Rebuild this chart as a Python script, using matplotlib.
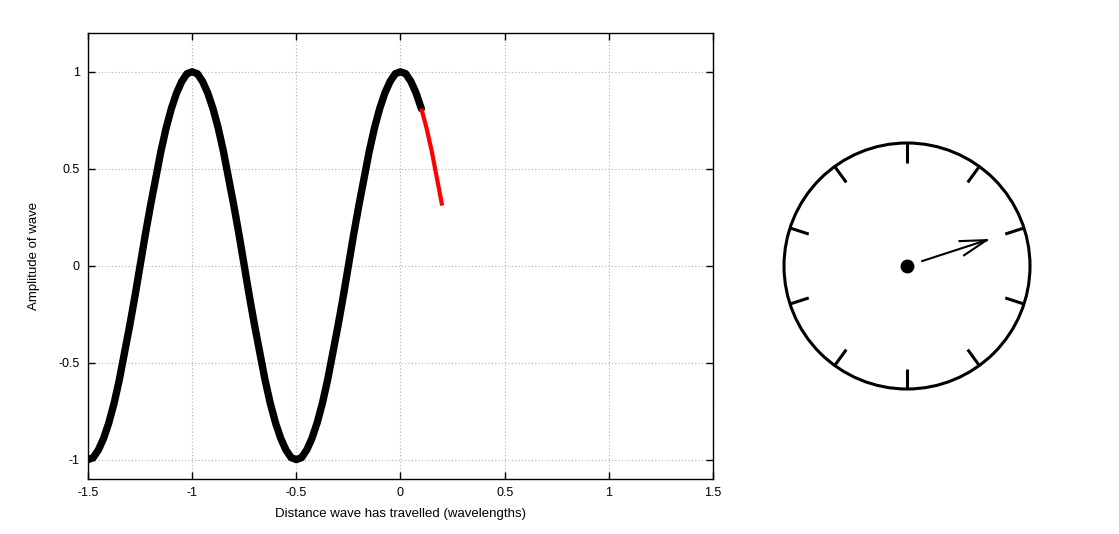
import numpy as np
import matplotlib
matplotlib.use("Agg")
import matplotlib.pyplot as plt
from matplotlib.patches import Circle

plt.rcParams['font.family'] = ['Liberation Sans', 'DejaVu Sans']

wave_x = np.arange(-1.5, 0.1001, 0.025)
wave_y = [-1, -0.99, -0.95, -0.89, -0.81, -0.71, -0.59, -0.45, -0.31, -0.16,
          0, 0.16, 0.31, 0.45, 0.59, 0.71, 0.81, 0.89, 0.95, 0.99,
          1, 0.99, 0.95, 0.89, 0.81, 0.71, 0.59, 0.45, 0.31, 0.16,
          0, -0.16, -0.31, -0.45, -0.59, -0.71, -0.81, -0.89, -0.95, -0.99,
          -1, -0.99, -0.95, -0.89, -0.81, -0.71, -0.59, -0.45, -0.31, -0.16,
          0, 0.16, 0.31, 0.45, 0.59, 0.71, 0.81, 0.89, 0.95, 0.99,
          1, 0.99, 0.95, 0.89, 0.81]

# newest part of the wave (red)
new_x = [0.1, 0.125, 0.15, 0.175, 0.2]
new_y = [0.81, 0.71, 0.59, 0.45, 0.31]

xticks = [-1.5, -1, -0.5, 0, 0.5, 1, 1.5]
xtick_labels = ['-1.5', '-1', '-0.5', '0', '0.5', '1', '1.5']
yticks = [-1, -0.5, 0, 0.5, 1]
ytick_labels = ['-1', '-0.5', '0', '0.5', '1']

phase = 0.2          # wavelengths travelled -> clock hand
n_marks = 10         # marks round the clock face

W, H = 1119, 534
fig = plt.figure(figsize=(W / 100, H / 100), dpi=100)

# ---- wave plot ----
ax = fig.add_axes([88 / W, 1 - 479 / H, (713 - 88) / W, (479 - 33) / H])
ax.plot(wave_x, wave_y, color='black', lw=5.3, solid_capstyle='round',
        solid_joinstyle='round', zorder=3)
ax.plot(new_x, new_y, color='red', lw=3, solid_capstyle='butt',
        solid_joinstyle='round', zorder=3)
ax.set_xlim(-1.5, 1.5)
ax.set_ylim(-1.1, 1.2)
ax.set_xticks(xticks)
ax.set_xticklabels(xtick_labels)
ax.set_yticks(yticks)
ax.set_yticklabels(ytick_labels)
ax.tick_params(direction='in', length=5, width=1, top=True, right=True,
               labelsize=9, pad=6)
ax.grid(True, color='#b0b0b0', linestyle=(0, (1, 2)), lw=0.8)
for s in ax.spines.values():
    s.set_linewidth(1)
ax.set_xlabel('Distance wave has travelled (wavelengths)', fontsize=9.5, labelpad=6)
ax.set_ylabel('Amplitude of wave', fontsize=9.5, labelpad=13)

# ---- clock ----
cx, cy, R = 907, 266, 123
size = 280
axc = fig.add_axes([(cx - size / 2) / W, 1 - (cy + size / 2) / H, size / W, size / H])
lim = size / 2 / R
axc.set_xlim(-lim, lim)
axc.set_ylim(-lim, lim)
axc.set_aspect('equal')
axc.axis('off')

axc.add_patch(Circle((0, 0), 1, fill=False, edgecolor='black', lw=2.2))
for k in range(n_marks):
    a = np.pi / 2 - 2 * np.pi * k / n_marks
    axc.plot([0.84 * np.cos(a), 1.0 * np.cos(a)], [0.84 * np.sin(a), 1.0 * np.sin(a)],
             color='black', lw=2.2, solid_capstyle='butt')
axc.plot(0, 0, 'o', color='black', ms=9)

a = np.pi / 2 - 2 * np.pi * phase
tip = np.array([0.68 * np.cos(a), 0.68 * np.sin(a)])
start = np.array([0.13 * np.cos(a), 0.13 * np.sin(a)])
axc.plot([start[0], tip[0]], [start[1], tip[1]], color='black', lw=1.5)
for d in (np.radians(16), -np.radians(16)):
    b = a + np.pi + d
    axc.plot([tip[0], tip[0] + 0.22 * np.cos(b)], [tip[1], tip[1] + 0.22 * np.sin(b)],
             color='black', lw=1.5)

fig.savefig('out.png', dpi=100)
